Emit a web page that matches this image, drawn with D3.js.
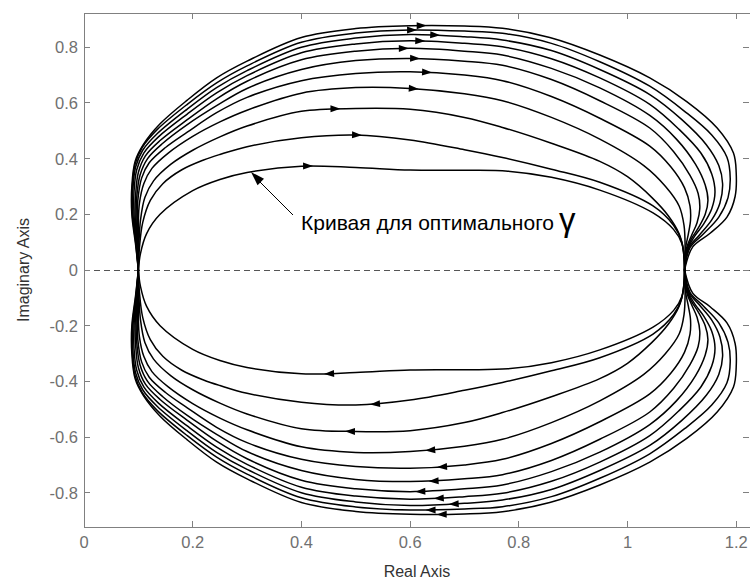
<!DOCTYPE html>
<html lang="ru">
<head>
<meta charset="UTF-8">
<title>Годограф</title>
<script src="https://d3js.org/d3.v7.min.js"></script>
<style>
  body { margin: 0; background: #fff; }
  svg { display: block; font-family: Arial, "Liberation Sans", sans-serif; }
  .frame { fill: none; stroke: #808080; stroke-width: 1; shape-rendering: crispEdges; }
  .tick-line { stroke: #808080; stroke-width: 1; shape-rendering: crispEdges; }
  .tick-label { fill: #707070; font-size: 16.5px; }
  .axis-title { fill: #333; font-size: 16px; }
  .curve { fill: none; stroke: #000; stroke-width: 1.5; }
  .zero-line { stroke: #555; stroke-width: 1; stroke-dasharray: 6,4; shape-rendering: crispEdges; }
  .note { fill: #000; font-size: 21px; }
</style>
</head>
<body>
<svg id="chart" width="750" height="580"></svg>
<script>
// верхние половины кривых (нижние — зеркальные), от внутренней (оптимальной) к внешней
const c1 = [[0.1,0],[0.104,0.06],[0.115,0.13],[0.14,0.2],[0.2,0.285],[0.25,0.325],[0.3,0.35],[0.4,0.373],[0.5,0.368],[0.6,0.359],[0.7,0.358],[0.78,0.355],[0.86,0.333],[0.949,0.287],[1.047,0.205],[1.085,0.145],[1.1,0.095],[1.105,0]];
const c2 = [[0.1,0],[0.102,0.08],[0.108,0.17],[0.122,0.25],[0.145,0.31],[0.18,0.36],[0.22,0.395],[0.25,0.415],[0.3,0.443],[0.4,0.475],[0.5,0.485],[0.6,0.467],[0.7,0.432],[0.77,0.404],[0.86,0.362],[0.949,0.315],[1.047,0.23],[1.085,0.16],[1.1,0.1],[1.105,0]];
const c3 = [[0.1,0],[0.101,0.09],[0.104,0.18],[0.112,0.26],[0.128,0.32],[0.16,0.38],[0.2,0.43],[0.25,0.478],[0.3,0.517],[0.4,0.57],[0.5,0.58],[0.6,0.577],[0.7,0.548],[0.77,0.512],[0.86,0.455],[0.949,0.39],[1.0,0.335],[1.045,0.26],[1.075,0.195],[1.095,0.13],[1.103,0.07],[1.105,0]];
const c4 = [[0.1,0],[0.1,0.1],[0.1,0.17],[0.102,0.24],[0.11,0.31],[0.125,0.365],[0.155,0.42],[0.2,0.48],[0.25,0.532],[0.3,0.574],[0.4,0.635],[0.5,0.655],[0.6,0.652],[0.7,0.633],[0.77,0.608],[0.86,0.548],[0.949,0.47],[1.03,0.375],[1.07,0.3],[1.095,0.23],[1.104,0.16],[1.106,0.08],[1.105,0]];
const c5 = [[0.1,0],[0.099,0.09],[0.098,0.18],[0.099,0.25],[0.106,0.33],[0.12,0.385],[0.15,0.44],[0.19,0.495],[0.244,0.565],[0.3,0.62],[0.4,0.68],[0.5,0.706],[0.6,0.712],[0.7,0.7],[0.77,0.68],[0.86,0.623],[0.949,0.545],[1.041,0.445],[1.08,0.37],[1.105,0.295],[1.115,0.23],[1.116,0.18],[1.112,0.13],[1.107,0.08],[1.105,0]];
const c6 = [[0.1,0],[0.098,0.09],[0.096,0.18],[0.097,0.26],[0.103,0.34],[0.117,0.4],[0.145,0.455],[0.19,0.522],[0.244,0.59],[0.3,0.652],[0.4,0.72],[0.5,0.752],[0.6,0.76],[0.7,0.75],[0.77,0.735],[0.86,0.684],[0.949,0.608],[1.041,0.51],[1.085,0.425],[1.115,0.34],[1.13,0.275],[1.133,0.22],[1.128,0.17],[1.118,0.125],[1.109,0.08],[1.105,0]];
const c7 = [[0.1,0],[0.097,0.1],[0.094,0.2],[0.095,0.27],[0.1,0.35],[0.113,0.41],[0.14,0.465],[0.19,0.54],[0.244,0.615],[0.3,0.678],[0.4,0.755],[0.5,0.786],[0.6,0.796],[0.7,0.786],[0.77,0.772],[0.86,0.724],[0.949,0.654],[1.041,0.555],[1.09,0.47],[1.125,0.38],[1.143,0.305],[1.148,0.25],[1.143,0.2],[1.13,0.15],[1.117,0.11],[1.109,0.07],[1.105,0]];
const c8 = [[0.1,0],[0.096,0.1],[0.092,0.2],[0.092,0.28],[0.097,0.36],[0.11,0.42],[0.137,0.478],[0.19,0.56],[0.244,0.636],[0.3,0.698],[0.4,0.78],[0.5,0.812],[0.6,0.823],[0.7,0.814],[0.77,0.802],[0.86,0.759],[0.949,0.69],[1.041,0.595],[1.095,0.505],[1.135,0.42],[1.155,0.345],[1.161,0.28],[1.155,0.22],[1.14,0.165],[1.123,0.12],[1.111,0.075],[1.105,0]];
const c9 = [[0.1,0],[0.096,0.1],[0.09,0.2],[0.09,0.29],[0.095,0.37],[0.108,0.43],[0.135,0.49],[0.19,0.578],[0.244,0.655],[0.3,0.716],[0.4,0.8],[0.5,0.833],[0.6,0.846],[0.7,0.838],[0.77,0.826],[0.86,0.788],[0.949,0.72],[1.041,0.63],[1.1,0.54],[1.145,0.45],[1.168,0.375],[1.175,0.31],[1.17,0.24],[1.155,0.18],[1.132,0.125],[1.113,0.08],[1.105,0]];
const c10 = [[0.1,0],[0.095,0.1],[0.089,0.2],[0.089,0.3],[0.094,0.38],[0.107,0.44],[0.135,0.505],[0.19,0.595],[0.244,0.672],[0.3,0.733],[0.4,0.818],[0.5,0.851],[0.6,0.862],[0.7,0.858],[0.77,0.85],[0.86,0.814],[0.949,0.748],[1.041,0.66],[1.105,0.57],[1.155,0.485],[1.183,0.405],[1.189,0.33],[1.185,0.26],[1.168,0.19],[1.14,0.13],[1.115,0.08],[1.105,0]];
const c11 = [[0.1,0],[0.095,0.09],[0.088,0.2],[0.088,0.3],[0.094,0.39],[0.109,0.45],[0.14,0.525],[0.19,0.61],[0.244,0.69],[0.3,0.75],[0.4,0.835],[0.5,0.867],[0.6,0.877],[0.7,0.876],[0.77,0.868],[0.857,0.835],[0.949,0.772],[1.041,0.69],[1.109,0.605],[1.165,0.51],[1.195,0.42],[1.2,0.35],[1.198,0.264],[1.183,0.19],[1.152,0.132],[1.12,0.083],[1.105,0]];

// где стоят стрелки направления (по оси Real)
const arrowsUpperX = [0.412, 0.502, 0.462, 0.606, 0.631, 0.609, 0.588, 0.618, 0.646, 0.603, 0.621];
const arrowsLowerX = [0.45, 0.535, 0.489, 0.637, 0.658, 0.643, 0.618, 0.652, 0.68, 0.637, 0.658];

const xTicks = [0, 0.2, 0.4, 0.6, 0.8, 1, 1.2];
const yTicks = [-0.8, -0.6, -0.4, -0.2, 0, 0.2, 0.4, 0.6, 0.8];

const curves = [c1, c2, c3, c4, c5, c6, c7, c8, c9, c10, c11];

const plotLeft = 84, plotTop = 13, plotRight = 750, plotBottom = 527;

const svg = d3.select("#chart");

const x = d3.scaleLinear().domain([0, 1.2254]).range([plotLeft, plotRight]);
const y = d3.scaleLinear().domain([-0.923, 0.923]).range([plotBottom, plotTop]);

// нулевая линия
svg.append("line")
    .attr("class", "zero-line")
    .attr("x1", plotLeft).attr("x2", plotRight)
    .attr("y1", y(0)).attr("y2", y(0));

const line = d3.line()
    .x(d => x(d[0]))
    .y(d => y(d[1]))
    .curve(d3.curveCatmullRom.alpha(0.5));

const g = svg.append("g");

function addArrow(path, targetX, forward) {
    const node = path.node();
    const total = node.getTotalLength();
    const tx = x(targetX);
    let len = 0;
    for (let l = 0; l <= total; l += 0.5) {
        if (node.getPointAtLength(l).x >= tx) { len = l; break; }
    }
    const p = node.getPointAtLength(len);
    const q = node.getPointAtLength(Math.min(total, len + 2));
    let ang = Math.atan2(q.y - p.y, q.x - p.x) * 180 / Math.PI;
    if (!forward) ang += 180;
    g.append("path")
        .attr("d", "M5,0L-5,-3.5L-5,3.5Z")
        .attr("fill", "#000")
        .attr("transform", "translate(" + p.x + "," + p.y + ") rotate(" + ang + ")");
}

curves.forEach(function (pts, i) {
    const upper = g.append("path")
        .attr("class", "curve")
        .attr("d", line(pts));
    const lower = g.append("path")
        .attr("class", "curve")
        .attr("d", line(pts.map(d => [d[0], -d[1]])));
    addArrow(upper, arrowsUpperX[i], true);
    addArrow(lower, arrowsLowerX[i], false);
});

// рамка
svg.append("rect")
    .attr("class", "frame")
    .attr("x", plotLeft + 0.5).attr("y", plotTop + 0.5)
    .attr("width", plotRight - plotLeft).attr("height", plotBottom - plotTop);

const tl = 6;
xTicks.forEach(function (t) {
    svg.append("line").attr("class", "tick-line")
        .attr("x1", x(t)).attr("x2", x(t)).attr("y1", plotBottom).attr("y2", plotBottom - tl);
    svg.append("line").attr("class", "tick-line")
        .attr("x1", x(t)).attr("x2", x(t)).attr("y1", plotTop).attr("y2", plotTop + tl);
    svg.append("text").attr("class", "tick-label")
        .attr("x", x(t)).attr("y", 548)
        .attr("text-anchor", "middle")
        .text(t);
});
yTicks.forEach(function (t) {
    svg.append("line").attr("class", "tick-line")
        .attr("x1", plotLeft).attr("x2", plotLeft + tl).attr("y1", y(t)).attr("y2", y(t));
    svg.append("line").attr("class", "tick-line")
        .attr("x1", plotRight - 1).attr("x2", plotRight - 1 - tl).attr("y1", y(t)).attr("y2", y(t));
    svg.append("text").attr("class", "tick-label")
        .attr("x", 78).attr("y", y(t))
        .attr("dy", "0.36em")
        .attr("text-anchor", "end")
        .text(t);
});

svg.append("text").attr("class", "axis-title")
    .attr("x", 417).attr("y", 577)
    .attr("text-anchor", "middle")
    .text("Real Axis");
svg.append("text").attr("class", "axis-title")
    .attr("transform", "translate(29,270) rotate(-90)")
    .attr("text-anchor", "middle")
    .text("Imaginary Axis");

// подпись со стрелкой
svg.append("line")
    .attr("x1", 293).attr("y1", 215)
    .attr("x2", 258).attr("y2", 180)
    .attr("stroke", "#000").attr("stroke-width", 1);
svg.append("path")
    .attr("d", "M0,0L-14,-4.5L-14,4.5Z")
    .attr("fill", "#000")
    .attr("transform", "translate(251,172) rotate(" + (Math.atan2(172 - 215, 251 - 293) * 180 / Math.PI) + ")");
svg.append("text").attr("class", "note")
    .attr("x", 301).attr("y", 230)
    .text("Кривая для оптимального");
svg.append("text")
    .attr("x", 559).attr("y", 231)
    .attr("font-size", "33px")
    .attr("fill", "#000")
    .text("γ");
</script>
</body>
</html>
